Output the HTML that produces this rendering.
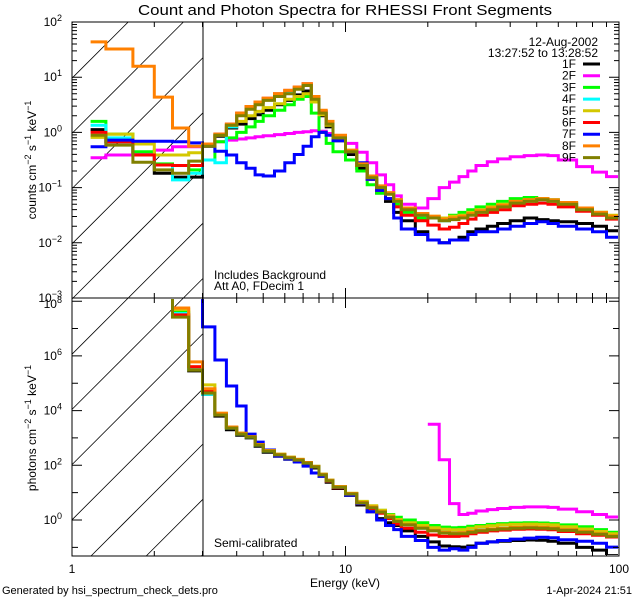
<!DOCTYPE html>
<html><head><meta charset="utf-8"><style>
html,body{margin:0;padding:0;background:#fff;width:640px;height:600px;overflow:hidden;}
svg{display:block;font-family:"Liberation Sans",sans-serif;overflow:hidden;}
text{fill:#000;}
</style></head><body>
<svg id="chart" width="640" height="600" viewBox="0 0 640 600" xmlns="http://www.w3.org/2000/svg">
<defs>
<clipPath id="clipTop"><rect x="73" y="23" width="545" height="274"/></clipPath>
<clipPath id="clipBot"><rect x="73" y="299" width="545" height="256"/></clipPath>
</defs>
<text x="345" y="15" font-size="15" text-anchor="middle" textLength="414" lengthAdjust="spacingAndGlyphs">Count and Photon Spectra for RHESSI Front Segments</text>
<g id="hatch" stroke="#000" stroke-width="0.8"></g>
<g id="series"></g>
<g id="axes" stroke="#000" stroke-width="1" fill="none"></g>
<g id="labels" font-size="12"></g>
<text transform="translate(36,160) rotate(-90)" font-size="12" text-anchor="middle">counts cm<tspan font-size="9" dy="-5">−2</tspan><tspan dy="5"> s</tspan><tspan font-size="9" dy="-5">−1</tspan><tspan dy="5"> keV</tspan><tspan font-size="9" dy="-5">−1</tspan></text>
<text transform="translate(36,428) rotate(-90)" font-size="12" text-anchor="middle">photons cm<tspan font-size="9" dy="-5">−2</tspan><tspan dy="5"> s</tspan><tspan font-size="9" dy="-5">−1</tspan><tspan dy="5"> keV</tspan><tspan font-size="9" dy="-5">−1</tspan></text>
<text x="598" y="46" font-size="12" text-anchor="end">12-Aug-2002</text>
<text x="598" y="57" font-size="12" text-anchor="end">13:27:52 to 13:28:52</text>
<g id="legend" font-size="12"></g>
<text x="214" y="279" font-size="12">Includes Background</text>
<text x="214" y="290" font-size="12">Att A0, FDecim 1</text>
<text x="214" y="547" font-size="12">Semi-calibrated</text>
<text x="345" y="587" font-size="12" text-anchor="middle">Energy (keV)</text>
<text x="2" y="594" font-size="11">Generated by hsi_spectrum_check_dets.pro</text>
<text x="632" y="594" font-size="11" text-anchor="end">1-Apr-2024 21:51</text>
</svg>
<script>
const energyEdges=[1.17,1.33,1.67,2,2.33,2.67,3,3.33,3.67,4,4.33,4.67,5,5.5,6,6.5,7,7.5,8,8.5,9,10,11,12,13,14,15,16,18,20,22,24,26,28,30,33,36,40,45,50,55,60,70,80,90,100];
const seriesNames=["1F","2F","3F","4F","5F","6F","7F","8F","9F"];
const seriesColors=["#000000","#ff00ff","#00ff00","#00ffff","#d4c800","#ff0000","#0000ff","#ff8000","#808000"];
const xTickValues=[1,10,100];
const xTickLabels=["1","10","100"];
const topTickExps=[2,1,0,-1,-2,-3];
const botTickExps=[8,6,4,2,0];
// log10 counts per bin (top panel)
const counts1F=[0.05,-0.17,-0.41,-0.74,-0.81,-0.81,-0.25,-0.07,0.08,0.15,0.25,0.32,0.4,0.5,0.58,0.68,0.75,0.55,0.3,0.1,-0.15,-0.4,-0.65,-0.85,-1.1,-1.25,-1.45,-1.6,-1.8,-1.95,-2.0,-1.95,-1.9,-1.8,-1.75,-1.7,-1.65,-1.6,-1.55,-1.58,-1.6,-1.62,-1.65,-1.7,-1.78];
const counts2F=[-0.46,-0.41,-0.36,-0.32,-0.26,-0.26,-0.22,-0.17,-0.14,-0.12,-0.1,-0.08,-0.06,-0.04,-0.02,0.0,0.01,0.03,0.02,-0.02,-0.1,-0.2,-0.36,-0.55,-0.77,-0.95,-1.15,-1.3,-1.37,-1.2,-1.0,-0.9,-0.8,-0.7,-0.6,-0.53,-0.48,-0.44,-0.42,-0.41,-0.42,-0.5,-0.62,-0.72,-0.8];
const counts3F=[0.2,-0.03,-0.35,-0.57,-0.6,-0.68,-0.5,-0.17,-0.1,0.0,0.1,0.2,0.3,0.4,0.5,0.6,0.65,0.35,0.0,-0.2,-0.35,-0.5,-0.7,-0.95,-1.1,-1.2,-1.3,-1.45,-1.55,-1.55,-1.55,-1.5,-1.45,-1.4,-1.35,-1.3,-1.25,-1.2,-1.18,-1.2,-1.22,-1.28,-1.38,-1.45,-1.55];
const counts4F=[0.13,-0.1,-0.41,-0.59,-0.86,-0.74,-0.5,-0.55,0.1,0.33,0.45,0.53,0.6,0.68,0.74,0.8,0.86,0.62,0.38,0.18,-0.07,-0.33,-0.58,-0.8,-0.98,-1.1,-1.23,-1.38,-1.5,-1.55,-1.6,-1.55,-1.52,-1.48,-1.43,-1.38,-1.33,-1.27,-1.24,-1.22,-1.24,-1.3,-1.38,-1.46,-1.52];
const counts5F=[-0.09,-0.03,-0.21,-0.41,-0.41,-0.37,-0.25,-0.05,0.13,0.2,0.3,0.38,0.45,0.52,0.6,0.65,0.7,0.55,0.32,0.13,-0.1,-0.35,-0.6,-0.82,-1.0,-1.1,-1.22,-1.37,-1.47,-1.52,-1.55,-1.52,-1.5,-1.45,-1.4,-1.35,-1.3,-1.25,-1.22,-1.2,-1.23,-1.28,-1.37,-1.45,-1.5];
const counts6F=[0.0,-0.17,-0.41,-0.59,-0.6,-0.6,-0.23,-0.03,0.15,0.35,0.47,0.55,0.62,0.7,0.76,0.82,0.88,0.63,0.38,0.17,-0.08,-0.35,-0.6,-0.85,-1.05,-1.2,-1.35,-1.5,-1.6,-1.68,-1.75,-1.72,-1.65,-1.57,-1.5,-1.45,-1.4,-1.33,-1.3,-1.28,-1.3,-1.35,-1.43,-1.5,-1.57];
const counts7F=[-0.26,-0.14,-0.16,-0.16,-0.17,-0.19,-0.25,-0.34,-0.41,-0.55,-0.65,-0.77,-0.79,-0.7,-0.55,-0.4,-0.25,-0.08,0.0,-0.05,-0.15,-0.35,-0.55,-0.85,-1.05,-1.2,-1.55,-1.75,-1.85,-1.95,-2.0,-1.95,-1.95,-1.85,-1.8,-1.8,-1.75,-1.7,-1.65,-1.62,-1.65,-1.7,-1.75,-1.8,-1.9];
const counts8F=[1.64,1.51,1.2,0.64,0.08,-0.25,-0.21,-0.03,0.15,0.35,0.47,0.55,0.62,0.7,0.76,0.82,0.88,0.65,0.4,0.2,-0.05,-0.32,-0.57,-0.79,-0.97,-1.09,-1.22,-1.37,-1.47,-1.52,-1.57,-1.55,-1.52,-1.47,-1.42,-1.37,-1.32,-1.25,-1.22,-1.2,-1.22,-1.27,-1.37,-1.45,-1.52];
const counts9F=[-0.05,-0.23,-0.54,-0.68,-0.74,-0.52,-0.25,-0.05,0.13,0.3,0.42,0.5,0.58,0.65,0.7,0.78,0.85,0.6,0.35,0.15,-0.1,-0.35,-0.6,-0.82,-1.0,-1.12,-1.25,-1.4,-1.5,-1.55,-1.6,-1.58,-1.55,-1.5,-1.45,-1.4,-1.35,-1.28,-1.25,-1.22,-1.25,-1.3,-1.4,-1.48,-1.55];
// log10 photons per bin (bottom panel)
const N=null;
const photons1F=[N,N,N,9,7.5,5.45,4.6,3.8,3.3,3.1,3.0,2.7,2.48,2.33,2.22,2.14,2.03,1.9,1.6,1.38,1.15,0.9,0.55,0.3,0.05,-0.1,-0.2,-0.4,-0.6,-0.8,-0.95,-0.98,-0.99,-0.95,-0.85,-0.8,-0.78,-0.75,-0.73,-0.74,-0.78,-0.85,-1.0,-1.1,-1.3];
const photons2F=[N,N,N,N,N,N,N,N,N,N,N,N,N,N,N,N,N,N,N,N,N,N,N,N,N,N,N,N,N,3.5,2.2,0.6,0.2,0.25,0.33,0.38,0.42,0.46,0.48,0.48,0.46,0.4,0.3,0.2,0.11];
const photons3F=[N,N,N,9,7.6,5.55,4.7,3.86,3.38,3.16,3.05,2.76,2.54,2.4,2.29,2.21,2.1,1.96,1.67,1.45,1.22,0.97,0.66,0.5,0.35,0.2,0.1,0.0,-0.1,-0.2,-0.26,-0.28,-0.27,-0.23,-0.2,-0.16,-0.13,-0.11,-0.1,-0.11,-0.13,-0.18,-0.25,-0.35,-0.45];
const photons4F=[N,N,N,9,7.55,5.5,4.6,3.84,3.36,3.14,3.03,2.74,2.52,2.38,2.27,2.19,2.08,1.94,1.65,1.43,1.2,0.95,0.62,0.45,0.29,0.1,-0.05,-0.18,-0.3,-0.38,-0.42,-0.44,-0.43,-0.4,-0.36,-0.33,-0.3,-0.28,-0.27,-0.28,-0.3,-0.36,-0.43,-0.5,-0.58];
const photons5F=[N,N,N,9,7.7,5.6,4.94,3.9,3.4,3.18,3.06,2.77,2.55,2.41,2.3,2.22,2.1,1.96,1.67,1.45,1.22,0.98,0.68,0.52,0.36,0.18,0.02,-0.1,-0.2,-0.28,-0.34,-0.36,-0.35,-0.3,-0.25,-0.21,-0.18,-0.16,-0.15,-0.16,-0.18,-0.25,-0.33,-0.42,-0.5];
const photons6F=[N,N,N,9,7.5,5.6,4.75,3.88,3.38,3.15,3.04,2.75,2.53,2.39,2.28,2.2,2.09,1.95,1.66,1.42,1.18,0.92,0.6,0.42,0.25,0.05,-0.15,-0.3,-0.45,-0.55,-0.6,-0.6,-0.58,-0.5,-0.45,-0.4,-0.37,-0.34,-0.33,-0.34,-0.36,-0.42,-0.5,-0.56,-0.62];
const photons7F=[N,N,N,9,9,9,7.06,5.85,4.9,4.17,3.14,2.85,2.56,2.34,2.23,2.12,1.97,1.72,1.6,1.43,1.2,0.91,0.6,0.3,0.0,-0.2,-0.35,-0.6,-0.75,-1.0,-1.1,-1.05,-1.1,-1.0,-0.85,-0.8,-0.75,-0.7,-0.66,-0.63,-0.65,-0.72,-0.78,-0.85,-0.99];
const photons8F=[N,N,N,9,7.75,5.78,4.8,3.9,3.4,3.17,3.05,2.76,2.54,2.4,2.29,2.21,2.1,1.96,1.67,1.45,1.22,0.97,0.64,0.47,0.3,0.12,-0.04,-0.17,-0.29,-0.38,-0.45,-0.47,-0.46,-0.42,-0.37,-0.33,-0.3,-0.27,-0.26,-0.27,-0.29,-0.35,-0.42,-0.5,-0.58];
const photons9F=[N,N,N,9,7.42,5.48,4.64,3.84,3.36,3.14,3.03,2.74,2.52,2.38,2.27,2.19,2.08,1.94,1.65,1.43,1.2,0.95,0.62,0.45,0.29,0.1,-0.05,-0.18,-0.3,-0.4,-0.48,-0.5,-0.5,-0.45,-0.4,-0.36,-0.33,-0.3,-0.29,-0.3,-0.32,-0.38,-0.45,-0.52,-0.6];
const countsSeries=[counts1F,counts2F,counts3F,counts4F,counts5F,counts6F,counts7F,counts8F,counts9F];
const photonSeries=[photons1F,photons2F,photons3F,photons4F,photons5F,photons6F,photons7F,photons8F,photons9F];

const NS="http://www.w3.org/2000/svg";
const X0=72,X1=619,DEC=273.5;
const TOP0=22,MID=298,BOT=556;
const xE=e=>X0+DEC*Math.log10(e);
const yTop=l=>TOP0+(2-l)*55.2;
const yBot=l=>520-27.35*l;
function mk(tag,attrs,parent){const el=document.createElementNS(NS,tag);for(const k in attrs)el.setAttribute(k,attrs[k]);parent.appendChild(el);return el;}

// hatch lines: y = c - (x - X0), clipped analytically to x in [72,203], y in [22,556]
const hatch=document.getElementById('hatch');
const HX1=203;
for(let k=-2;k<14;k++){
  const c=TOP0+1+55.2*k;
  let xa=X0,xb=HX1;
  // y at xa is c, at xb is c-(xb-X0); need y<=BOT and y>=TOP0
  xa=Math.max(xa,X0+(c-BOT));
  xb=Math.min(xb,X0+(c-TOP0));
  if(xb<=xa)continue;
  const ln=mk('line',{x1:xa.toFixed(1),y1:(c-(xa-X0)).toFixed(1),x2:xb.toFixed(1),y2:(c-(xb-X0)).toFixed(1)},hatch);
  
  
}

function stepPath(vals,yf,ymin,ymax){
  let d='';let started=false;
  for(let i=0;i<vals.length;i++){
    const v=vals[i];
    if(v===null){started=false;continue;}
    const xa=xE(energyEdges[i]).toFixed(1),xb=xE(energyEdges[i+1]).toFixed(1);
    const y=Math.min(ymax,Math.max(ymin,yf(v))).toFixed(1);
    d+=(started?'L':'M')+xa+' '+y+'L'+xb+' '+y;
    started=true;
  }
  return d;
}
const sg=document.getElementById('series');
const gTop=mk('g',{'clip-path':'url(#clipTop)'},sg);


const gBot=mk('g',{'clip-path':'url(#clipBot)'},sg);


for(let s=0;s<seriesNames.length;s++){
  const p=mk('path',{d:stepPath(countsSeries[s],yTop,TOP0-5,MID+5),fill:'none',stroke:seriesColors[s],'stroke-width':3,'stroke-linejoin':'miter'},gTop);
  
  
  const q=mk('path',{d:stepPath(photonSeries[s],yBot,MID-5,BOT+5),fill:'none',stroke:seriesColors[s],'stroke-width':3,'stroke-linejoin':'miter'},gBot);
  
  
}

const ax=document.getElementById('axes');
const r1=mk('rect',{x:X0,y:TOP0,width:X1-X0,height:MID-TOP0},ax);


const r2=mk('rect',{x:X0,y:MID,width:X1-X0,height:BOT-MID},ax);


const vl=mk('line',{x1:203,y1:TOP0,x2:203,y2:BOT},ax);


let td='';
for(let dec=0;dec<2;dec++){
  for(let m=1;m<=10;m++){
    const e=Math.pow(10,dec)*m;const x=xE(e).toFixed(1);
    const len=(m===1||m===10)?10:5;
    td+=`M${x} ${TOP0}v${len}M${x} ${MID}v${-len}M${x} ${MID}v${len}M${x} ${BOT}v${-len}`;
  }
}
for(let dec=-3;dec<2;dec++){
  for(let m=1;m<=10;m++){
    const y=yTop(dec+Math.log10(m)).toFixed(1);const len=(m===1||m===10)?10:5;
    td+=`M${X0} ${y}h${len}M${X1} ${y}h${-len}`;
  }
}
for(let l=-1;l<=8;l++){
  const y=yBot(l);if(y<MID||y>BOT)continue;
  const len=(l%2===0)?10:6;
  td+=`M${X0} ${y.toFixed(1)}h${len}M${X1} ${y.toFixed(1)}h${-len}`;
}
const tk=mk('path',{d:td},ax);



const lb=document.getElementById('labels');
function powLabel(exp,y,name){
  const t=mk('text',{x:62,y:y+4,'text-anchor':'end'},lb);
  
  
  t.innerHTML='10<tspan font-size="9" dy="-5">'+(exp<0?'−'+(-exp):exp)+'</tspan>';
}
topTickExps.forEach(e=>powLabel(e,yTop(e),'top-y-tick-label'));
botTickExps.forEach(e=>powLabel(e,yBot(e)+(e===8?3:0),'bottom-y-tick-label'));
xTickValues.forEach((v,i)=>{
  const t=mk('text',{x:xE(v),y:573,'text-anchor':'middle'},lb);
  
  
  t.textContent=xTickLabels[i];
});

const lg=document.getElementById('legend');
seriesNames.forEach((n,i)=>{
  const y=64+i*11.7;
  const t=mk('text',{x:576,y:y+4,'text-anchor':'end'},lg);
  
  
  t.textContent=n;
  const l=mk('line',{x1:583,y1:y,x2:600,y2:y,stroke:seriesColors[i],'stroke-width':3},lg);
  
  
});
</script>
</body></html>
